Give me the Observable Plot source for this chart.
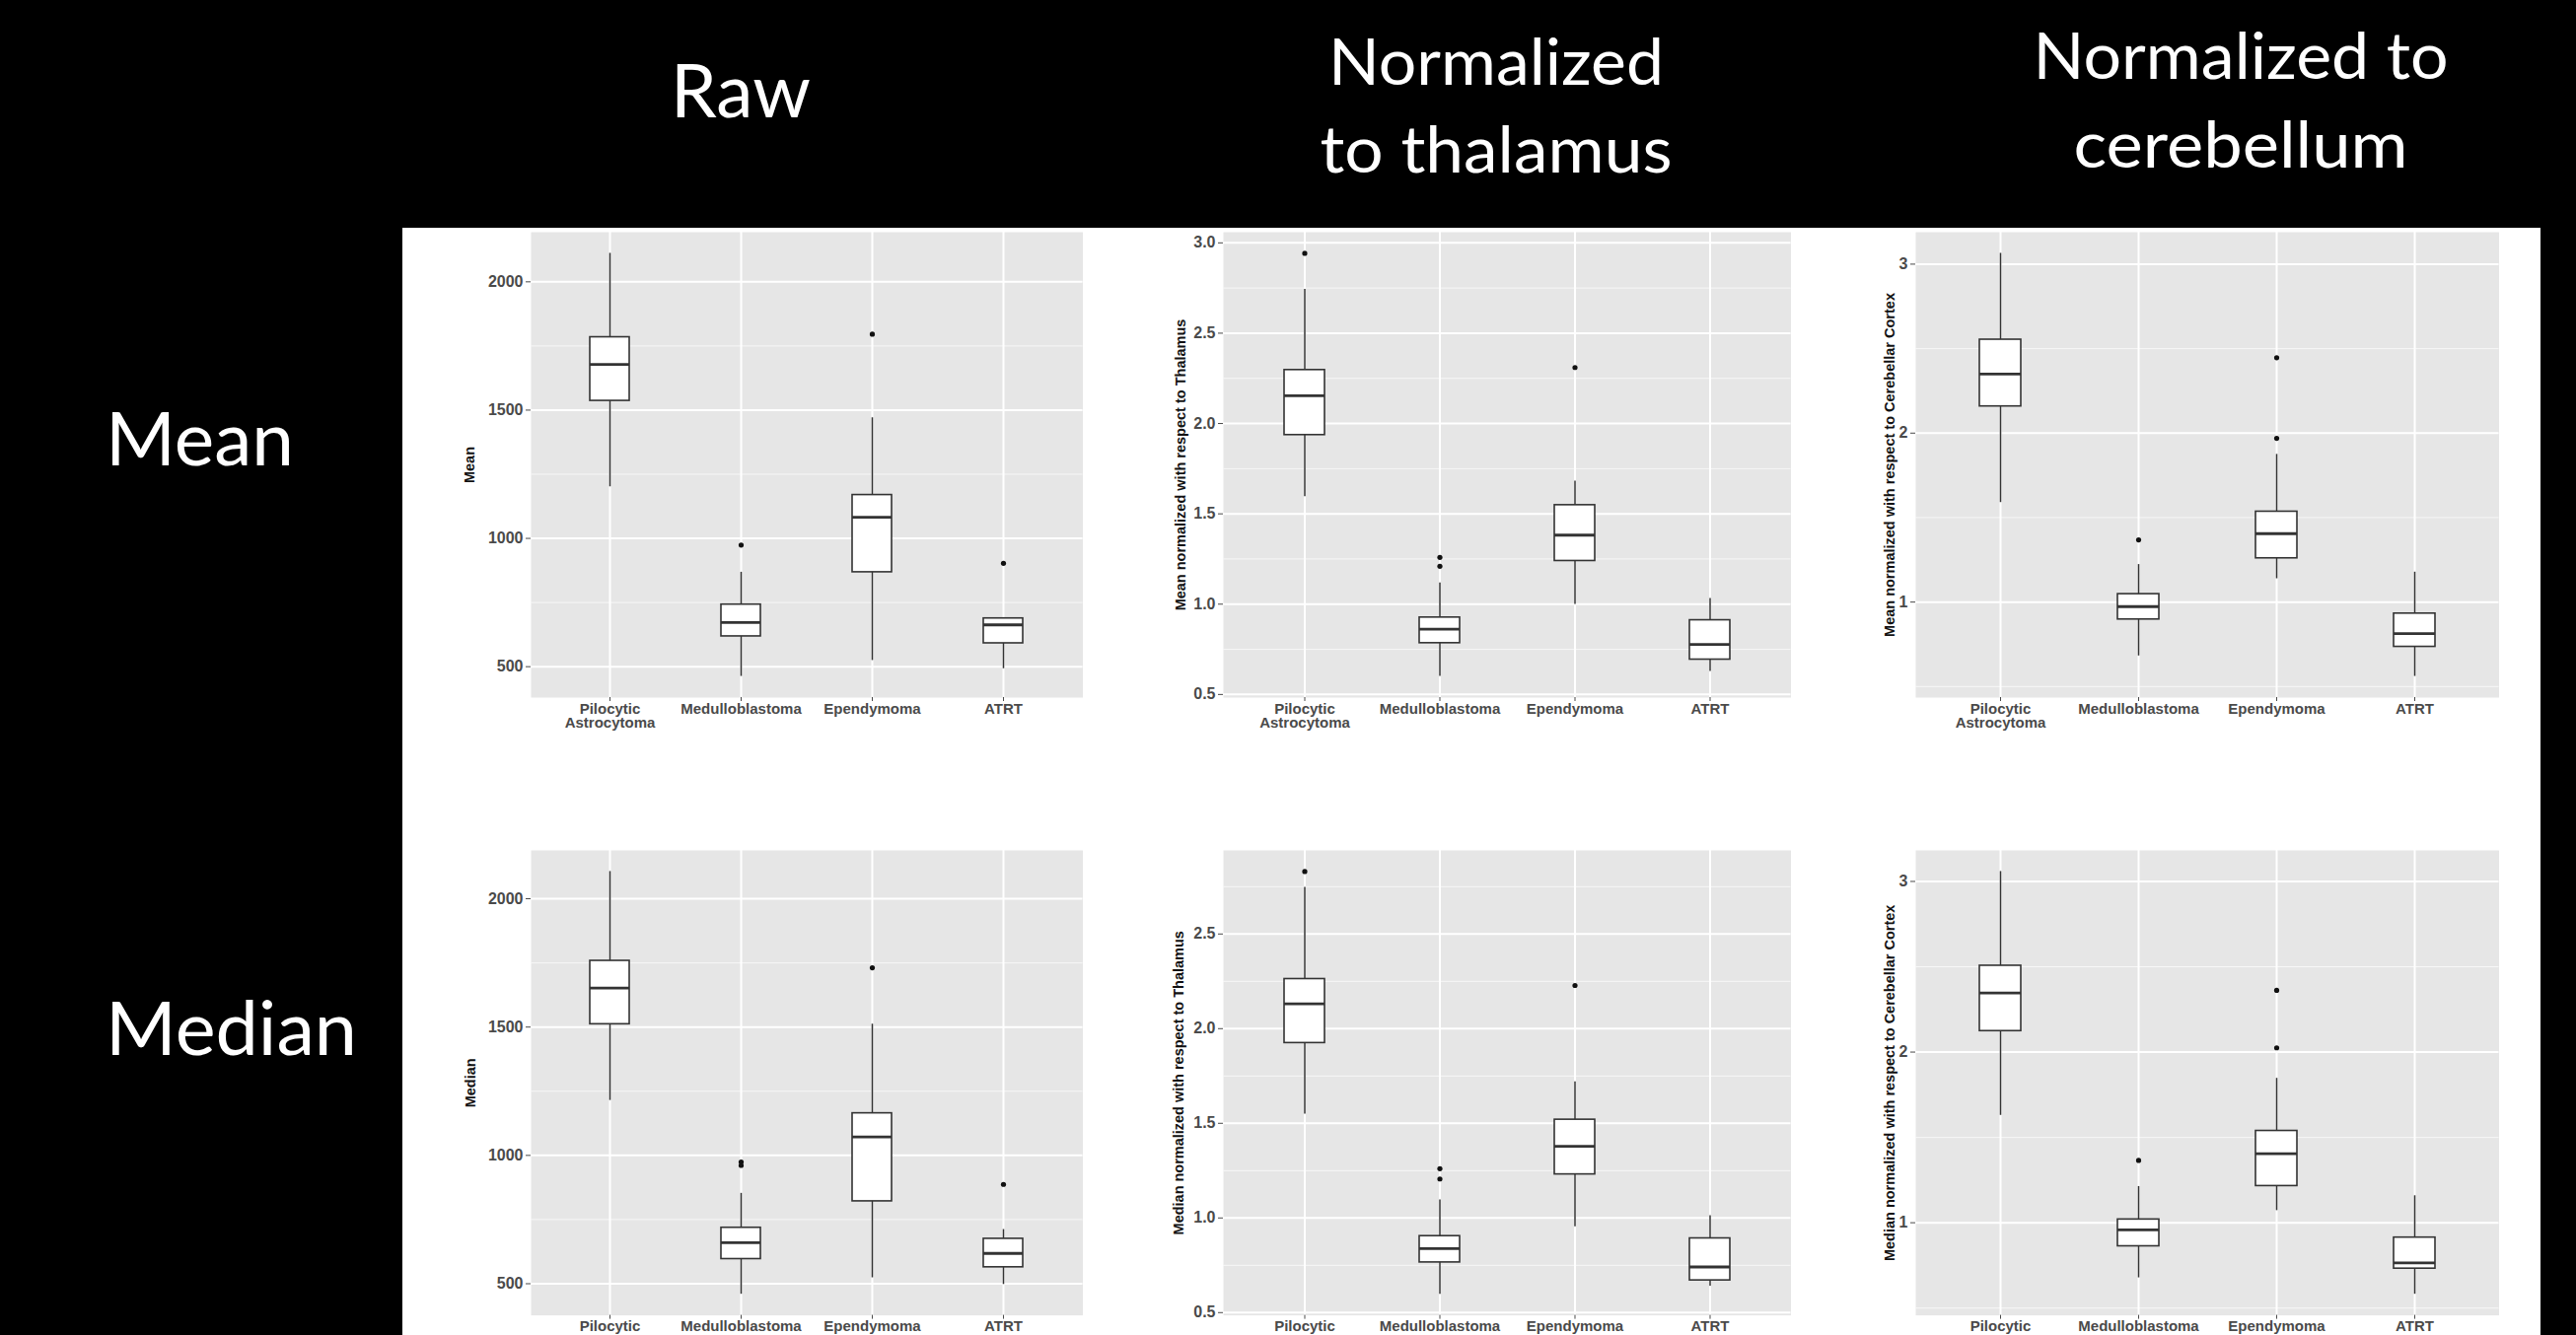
<!DOCTYPE html>
<html><head><meta charset="utf-8">
<script src="https://cdn.jsdelivr.net/npm/d3@7"></script>
<script src="https://cdn.jsdelivr.net/npm/@observablehq/plot@0.6"></script>
<style>
html,body{margin:0;padding:0;background:#000;overflow:hidden;}
#root{position:relative;width:2612px;height:1354px;overflow:hidden;background:#000;}
#white{position:absolute;left:408px;top:231px;width:2168px;height:1123px;background:#fff;}
.panel{position:absolute;}
</style></head><body><div id="root"><div id="white"></div></div>
<script>
// ---- data ----
const categories = ["Pilocytic\nAstrocytoma", "Medulloblastoma", "Ependymoma", "ATRT"];
// per category: [lower whisker, Q1, median, Q3, upper whisker]
const meanRawStats = [[1201, 1536, 1678, 1784, 2111], [462, 618, 672, 742, 868], [524, 868, 1082, 1169, 1470], [492, 591, 663, 688, 688]];
const meanRawOutliers = [[1, 974], [2, 1796], [3, 903]];
const meanThalStats = [[1.595, 1.936, 2.154, 2.296, 2.742], [0.600, 0.784, 0.862, 0.926, 1.117], [0.999, 1.239, 1.382, 1.548, 1.681], [0.627, 0.693, 0.777, 0.911, 1.031]];
const meanThalOutliers = [[0, 2.942], [1, 1.259], [1, 1.210], [2, 2.310]];
const meanCerebStats = [[1.589, 2.158, 2.350, 2.553, 3.064], [0.681, 0.897, 0.973, 1.047, 1.222], [1.138, 1.259, 1.405, 1.535, 1.874], [0.560, 0.735, 0.813, 0.932, 1.177]];
const meanCerebOutliers = [[1, 1.368], [2, 2.446], [2, 1.969]];
const medianRawStats = [[1214, 1511, 1652, 1758, 2106], [459, 596, 660, 718, 852], [523, 821, 1072, 1164, 1511], [497, 564, 618, 675, 711]];
const medianRawOutliers = [[1, 974], [1, 961], [2, 1731], [3, 887]];
const medianThalStats = [[1.549, 1.924, 2.131, 2.262, 2.746], [0.597, 0.765, 0.838, 0.904, 1.095], [0.953, 1.230, 1.378, 1.519, 1.719], [0.640, 0.670, 0.741, 0.892, 1.012]];
const medianThalOutliers = [[0, 2.830], [1, 1.260], [1, 1.206], [2, 2.228]];
const medianCerebStats = [[1.629, 2.123, 2.346, 2.506, 3.058], [0.677, 0.862, 0.958, 1.019, 1.212], [1.071, 1.215, 1.404, 1.538, 1.846], [0.581, 0.731, 0.765, 0.913, 1.158]];
const medianCerebOutliers = [[1, 1.365], [2, 2.362], [2, 2.025]];

const rawTicks = [500, 1000, 1500, 2000];
const rawMinor = [250, 750, 1250, 1750, 2250];
const thalTicks = [0.5, 1.0, 1.5, 2.0, 2.5, 3.0];
const thalMinor = [0.25, 0.75, 1.25, 1.75, 2.25, 2.75, 3.25];
const cerebTicks = [1, 2, 3];
const cerebMinor = [0.5, 1.5, 2.5, 3.5];

const columnTitles = [["Raw"], ["Normalized", "to thalamus"], ["Normalized to", "cerebellum"]];
const rowTitles = ["Mean", "Median"];
const yLabels = ["Mean", "Mean normalized with respect to Thalamus", "Mean normalized with respect to Cerebellar Cortex",
  "Median", "Median normalized with respect to Thalamus", "Median normalized with respect to Cerebellar Cortex"];

// ---- layout ----
const panels = [
  {stats: meanRawStats, out: meanRawOutliers, ticks: rawTicks, minor: rawMinor, fmt: d => String(d), left: 537.5, top: 235, w: 559.5, h: 472, dx: -62},
  {stats: meanThalStats, out: meanThalOutliers, ticks: thalTicks, minor: thalMinor, fmt: d => d.toFixed(1), left: 1240, top: 235, w: 575.5, h: 472, dx: -43},
  {stats: meanCerebStats, out: meanCerebOutliers, ticks: cerebTicks, minor: cerebMinor, fmt: d => String(d), left: 1941.5, top: 235, w: 591.5, h: 472, dx: -26},
  {stats: medianRawStats, out: medianRawOutliers, ticks: rawTicks, minor: rawMinor, fmt: d => String(d), left: 537.5, top: 861.7, w: 559.5, h: 471.6, dx: -61},
  {stats: medianThalStats, out: medianThalOutliers, ticks: thalTicks, minor: thalMinor, fmt: d => d.toFixed(1), left: 1240, top: 861.7, w: 575.5, h: 471.6, dx: -45},
  {stats: medianCerebStats, out: medianCerebOutliers, ticks: cerebTicks, minor: cerebMinor, fmt: d => String(d), left: 1941.5, top: 861.7, w: 591.5, h: 471.6, dx: -26}
];

const root = document.getElementById("root");
const ML = 100, MR = 4, MT = 4, MB = 44;

panels.forEach((p, i) => {
  const rows = p.stats.map((s, k) => ({cat: categories[k], low: s[0], q1: s[1], med: s[2], q3: s[3], up: s[4]}));
  const outs = p.out.map(([k, v]) => ({cat: categories[k], v}));
  const lo = d3.min([...rows.map(r => r.low), ...outs.map(o => o.v)]);
  const hi = d3.max([...rows.map(r => r.up), ...outs.map(o => o.v)]);
  const pad = (hi - lo) * 0.05;
  const domain = [lo - pad, hi + pad];
  const inDom = v => v >= domain[0] && v <= domain[1];
  const ticks = p.ticks.filter(inDom);
  const minor = p.minor.filter(inDom);
  const chart = Plot.plot({
    width: ML + p.w + MR,
    height: MT + p.h + MB,
    marginLeft: ML, marginRight: MR, marginTop: MT, marginBottom: MB,
    style: {fontFamily: "'Liberation Sans', Arial, sans-serif", background: "transparent", overflow: "visible"},
    x: {type: "band", domain: categories, paddingInner: 0.7, paddingOuter: 0.45, align: 0.5},
    y: {domain},
    marks: [
      Plot.frame({fill: "#e6e6e6", stroke: "none"}),
      Plot.ruleY(minor, {y: d => d, stroke: "#f7f7f7", strokeWidth: 1}),
      Plot.ruleY(ticks, {y: d => d, stroke: "#ffffff", strokeWidth: 2}),
      Plot.ruleX(categories, {x: d => d, stroke: "#ffffff", strokeWidth: 2}),
      Plot.ruleX(rows, {x: "cat", y1: "low", y2: "up", stroke: "#333", strokeWidth: 1.5}),
      Plot.barY(rows, {x: "cat", y1: "q1", y2: "q3", fill: "white", stroke: "#333", strokeWidth: 1.6}),
      Plot.tickY(rows, {x: "cat", y: "med", stroke: "#333", strokeWidth: 2.8}),
      Plot.dot(outs, {x: "cat", y: "v", r: 2.6, fill: "#111", stroke: "none"}),
      Plot.axisY(ticks, {tickSize: 5, tickPadding: 3, fontSize: 16, fontWeight: "bold", color: "#4a4a4a", label: null, tickFormat: p.fmt}),
      Plot.axisX({tickSize: 4, tickPadding: 2, fontSize: 15, fontWeight: "bold", color: "#4a4a4a", label: null, lineHeight: 0.95}),
      Plot.text([yLabels[i]], {text: d => d, frameAnchor: "left", textAnchor: "middle", lineAnchor: "middle", rotate: -90, dx: p.dx, fontSize: 14.5, fontWeight: "bold", fill: "#111"})
    ]
  });
  const div = document.createElement("div");
  div.className = "panel";
  div.style.left = (p.left - ML) + "px";
  div.style.top = (p.top - MT) + "px";
  div.style.width = (ML + p.w + MR) + "px";
  div.appendChild(chart);
  root.appendChild(div);
});

// ---- titles ----
const svg = d3.select(root).append("svg")
  .attr("width", 2612).attr("height", 1354)
  .style("position", "absolute").style("left", 0).style("top", 0).style("pointer-events", "none")
  .style("font-family", "Lato, 'Open Sans', sans-serif").style("fill", "#fff");
const colSpecs = [
  {cx: 751, lines: [{b: 119, len: 142}], size: 75},
  {cx: 1517, lines: [{b: 86, len: 340}, {b: 175, len: 357}], size: 65},
  {cx: 2272, lines: [{b: 80, len: 421}, {b: 170, len: 339}], size: 65}
];
colSpecs.forEach((c, i) => {
  columnTitles[i].forEach((t, j) => {
    svg.append("text").attr("x", c.cx).attr("y", c.lines[j].b).attr("text-anchor", "middle")
      .attr("font-size", c.size).attr("textLength", c.lines[j].len).attr("lengthAdjust", "spacingAndGlyphs").text(t);
  });
});
const rowSpecs = [{b: 472, len: 191}, {b: 1070, len: 255}];
rowTitles.forEach((t, i) => {
  svg.append("text").attr("x", 107).attr("y", rowSpecs[i].b).attr("font-size", 75)
    .attr("textLength", rowSpecs[i].len).attr("lengthAdjust", "spacingAndGlyphs").text(t);
});
</script></body></html>
